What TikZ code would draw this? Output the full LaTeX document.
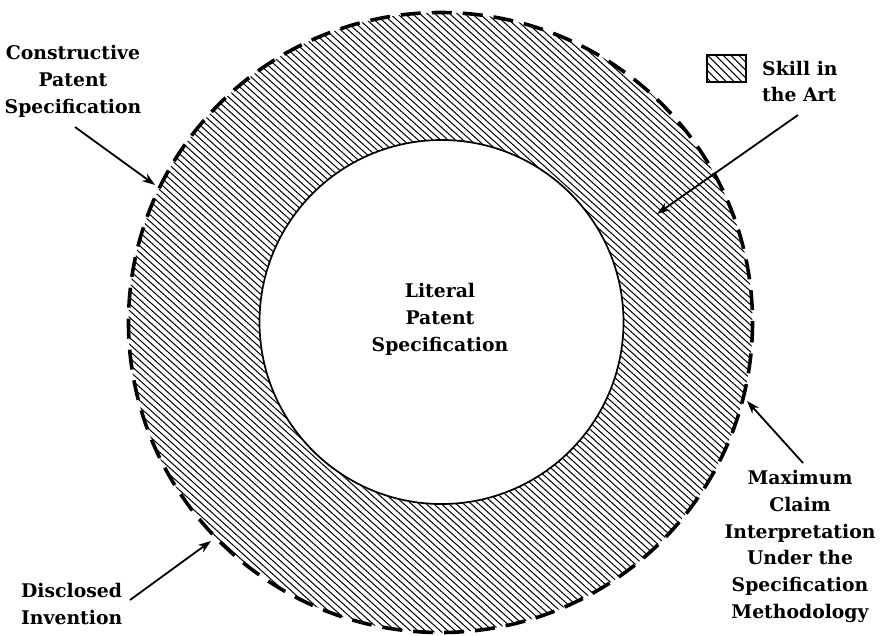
\documentclass[tikz,border=0pt]{standalone}
\usepackage{fontspec}
\setmainfont{DejaVu Serif}
\usetikzlibrary{arrows.meta}
\begin{document}
\begin{tikzpicture}[x=1pt,y=-1pt,
  lbl/.style={font=\bfseries\fontsize{18.8}{26.8}\selectfont, inner sep=0pt},
  arr/.style={line width=1.8pt, -{Stealth[length=13pt,width=9pt]}},
  hatchline/.style={line width=1.0pt},
  dashring/.style={line width=3.6pt, dash pattern=on 20pt off 11pt},
  innerring/.style={line width=1.7pt}]
\useasboundingbox (0,0) rectangle (883,635);
\coordinate (c) at (441,322);
% hatched annulus
\begin{scope}[even odd rule]
  \clip (440.5,322.5) ellipse[x radius=312, y radius=310] (441.5,322) circle[radius=182];
  \foreach \k in {-340,-335,...,340} {
    \draw[hatchline] ({441-0.669*\k-340*0.743},{322+0.743*\k-340*0.669}) -- ({441-0.669*\k+340*0.743},{322+0.743*\k+340*0.669});
  }
\end{scope}
\draw[dashring] (440.5,322.5) ellipse[x radius=312, y radius=310];
\draw[innerring] (441.5,322) circle[radius=182];
% legend
\begin{scope}
  \clip (707,55) rectangle (746,82);
  \foreach \k in {-40,-34.5,...,40} {
    \draw[hatchline] ({726.5-0.707*\k-40*0.707},{68.5+0.707*\k-40*0.707}) -- ({726.5-0.707*\k+40*0.707},{68.5+0.707*\k+40*0.707});
  }
\end{scope}
\node[draw, line width=1.5pt, minimum width=39pt, minimum height=27pt, inner sep=0pt] (key) at (726.5,68.5) {};
\node[lbl, anchor=west, align=left] (skill) at (762,81.5) {Skill in\\the Art};
% labels
\node[lbl, align=center] (constr) at (73,81.5) {Constructive\\Patent\\Specification};
\node[lbl, align=center] (literal) at (440,319.5) {Literal\\Patent\\Specification};
\node[lbl, align=center] (maxclaim) at (800,546.5) {Maximum\\Claim\\Interpretation\\Under the\\Specification\\Methodology};
\node[lbl, anchor=west, align=left] (disc) at (21,604) {Disclosed\\Invention};
% arrow ends
\coordinate (a1s) at (75,127);
\coordinate (a1e) at (155,185);
\coordinate (a2s) at (798,115);
\coordinate (a2e) at (657,214);
\coordinate (a3s) at (803,463);
\coordinate (a3e) at (747,401);
\coordinate (a4s) at (130,600);
\coordinate (a4e) at (211,541);
\draw[arr] (a1s) -- (a1e);
\draw[arr] (a2s) -- (a2e);
\draw[arr] (a3s) -- (a3e);
\draw[arr] (a4s) -- (a4e);
\end{tikzpicture}
\end{document}
